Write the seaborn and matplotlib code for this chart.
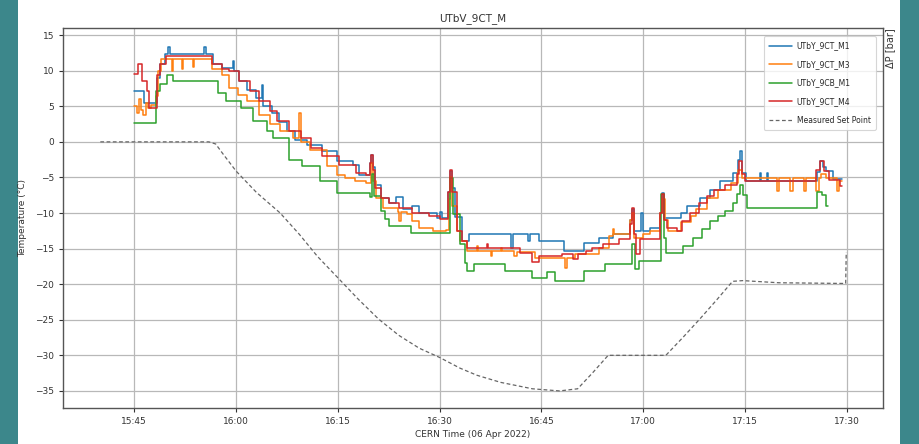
import matplotlib
matplotlib.use("Agg")
import matplotlib.pyplot as plt
import matplotlib.dates as mdates
from matplotlib.patches import Rectangle
import pandas as pd
import seaborn as sns

DAY = "2022-04-06 "

title = "UTbV_9CT_M"
x_label = "CERN Time (06 Apr 2022)"
y_label = "Temperature (°C)"
y2_label = "ΔP [bar]"
labels = ["UTbY_9CT_M1", "UTbY_9CT_M3", "UTbY_9CB_M1", "UTbY_9CT_M4", "Measured Set Point"]
colors = ["#1f77b4", "#ff7f0e", "#2ca02c", "#d62728", "#666666"]
y_ticks = [15, 10, 5, 0, -5, -10, -15, -20, -25, -30, -35]

m1_time = ["15:45:00", "15:46:30", "15:48:20", "15:48:50", "15:49:30", "15:50:00", "15:50:15", "15:55:20",
           "15:55:35", "15:56:40", "15:58:00", "15:59:30", "15:59:45", "16:00:30", "16:01:40", "16:03:00",
           "16:03:50", "16:04:00", "16:05:20", "16:06:20", "16:07:30", "16:08:40", "16:10:30", "16:12:40",
           "16:14:50", "16:17:10", "16:18:10", "16:19:40", "16:19:55", "16:20:10", "16:20:30", "16:21:20",
           "16:22:30", "16:23:30", "16:24:40", "16:26:00", "16:27:00", "16:29:40", "16:30:00", "16:30:20",
           "16:31:10", "16:31:30", "16:31:50", "16:32:20", "16:33:20", "16:34:20", "16:40:30", "16:40:45",
           "16:43:00", "16:43:15", "16:44:40", "16:48:20", "16:51:20", "16:53:30", "16:55:30", "16:58:00",
           "16:58:20", "16:58:40", "16:59:40", "17:00:00", "17:01:00", "17:02:30", "17:02:45", "17:03:00",
           "17:05:30", "17:06:30", "17:08:20", "17:09:50", "17:11:20", "17:13:10", "17:14:00", "17:14:15",
           "17:14:30", "17:15:10", "17:17:10", "17:17:20", "17:18:10", "17:18:20", "17:25:40", "17:26:00",
           "17:26:30", "17:27:00", "17:28:00", "17:29:20"]
m1_temp = [7.2, 5.4, 9.0, 11.0, 12.3, 13.4, 12.3, 13.4,
           12.3, 11.0, 10.4, 11.3, 9.9, 8.6, 7.3, 6.2,
           8.0, 5.0, 4.0, 2.8, 1.5, 0.3, -0.5, -1.3,
           -2.7, -3.2, -4.6, -3.0, -1.8, -3.5, -6.0, -7.9,
           -8.6, -7.8, -9.5, -9.0, -10.0, -10.7, -9.8, -10.7,
           -7.0, -4.1, -6.5, -10.5, -14.0, -13.0, -14.9, -13.0,
           -14.0, -13.0, -14.0, -15.3, -14.2, -13.5, -13.0, -11.0,
           -9.5, -12.5, -10.0, -12.5, -12.1, -10.0, -7.2, -10.7,
           -10.0, -9.0, -7.9, -6.7, -5.5, -4.4, -2.5, -1.3,
           -4.4, -5.5, -4.4, -5.5, -4.4, -5.5, -4.2, -2.7,
           -3.5, -4.1, -5.2, -5.2]

m3_time = ["15:45:00", "15:45:20", "15:45:40", "15:46:00", "15:46:20", "15:46:40", "15:47:00", "15:47:30",
           "15:48:10", "15:48:30", "15:49:00", "15:50:30", "15:50:40", "15:52:00", "15:52:10", "15:53:40",
           "15:53:50", "15:56:30", "15:58:00", "15:59:00", "16:00:20", "16:01:40", "16:03:20", "16:05:00",
           "16:06:30", "16:08:20", "16:09:20", "16:09:30", "16:10:50", "16:13:20", "16:14:50", "16:16:00",
           "16:17:30", "16:19:10", "16:19:50", "16:20:10", "16:20:40", "16:21:40", "16:23:50", "16:24:00",
           "16:24:20", "16:25:10", "16:26:00", "16:27:00", "16:29:00", "16:31:00", "16:31:20", "16:31:35",
           "16:31:50", "16:32:30", "16:33:00", "16:34:00", "16:35:30", "16:35:40", "16:37:30", "16:37:40",
           "16:39:00", "16:39:10", "16:41:00", "16:41:20", "16:44:00", "16:48:30", "16:48:50", "16:50:00",
           "16:53:30", "16:55:00", "16:55:30", "16:55:40", "16:58:00", "16:58:20", "16:58:40", "17:00:00",
           "17:01:00", "17:02:30", "17:02:45", "17:03:10", "17:03:40", "17:05:30", "17:07:00", "17:07:50",
           "17:09:20", "17:11:00", "17:13:00", "17:14:00", "17:14:30", "17:19:40", "17:20:00", "17:21:40",
           "17:22:00", "17:23:40", "17:24:00", "17:25:30", "17:25:50", "17:26:10", "17:27:00", "17:28:30",
           "17:28:50", "17:29:20"]
m3_temp = [5.0, 4.0, 6.0, 4.5, 3.8, 5.5, 4.8, 5.2,
           6.5, 10.0, 11.6, 10.0, 11.6, 10.2, 11.6, 10.5,
           11.6, 10.3, 9.4, 7.5, 6.6, 5.7, 3.8, 2.5,
           1.5, 0.5, 4.0, 0.0, -1.1, -3.4, -4.6, -5.1,
           -5.5, -5.8, -3.0, -5.5, -7.9, -9.3, -9.8, -11.1,
           -9.8, -10.2, -11.1, -12.1, -12.5, -12.4, -8.0, -5.0,
           -9.0, -12.5, -14.0, -15.3, -14.6, -15.3, -16.0, -15.3,
           -14.9, -15.3, -16.0, -15.5, -16.3, -17.7, -16.3, -15.8,
           -14.9, -13.2, -12.3, -13.0, -11.0, -10.0, -13.5, -13.0,
           -12.5, -10.0, -8.0, -11.0, -12.5, -11.3, -10.4, -9.5,
           -7.9, -6.7, -5.8, -4.0, -5.1, -6.9, -5.1, -6.9,
           -5.1, -6.9, -5.1, -6.9, -5.1, -4.5, -5.1, -6.9,
           -5.5, -5.5]

cb_time = ["15:45:00", "15:48:10", "15:48:50", "15:49:50", "15:50:40", "15:57:20", "15:58:30", "16:00:00",
           "16:00:40", "16:02:30", "16:04:30", "16:05:30", "16:07:50", "16:09:40", "16:12:20", "16:14:50",
           "16:19:10", "16:19:40", "16:20:00", "16:20:20", "16:21:20", "16:22:00", "16:22:30", "16:25:50",
           "16:31:00", "16:31:30", "16:32:00", "16:33:00", "16:33:40", "16:34:00", "16:35:00", "16:39:40",
           "16:43:40", "16:45:50", "16:47:00", "16:51:20", "16:54:20", "16:58:00", "16:58:20", "16:58:50",
           "16:59:20", "17:02:20", "17:02:40", "17:03:00", "17:03:20", "17:05:50", "17:07:20", "17:08:40",
           "17:09:50", "17:11:00", "17:12:00", "17:13:10", "17:13:50", "17:14:20", "17:14:40", "17:15:20",
           "17:25:40", "17:26:20", "17:27:00", "17:27:10"]
cb_temp = [2.6, 7.1, 8.2, 9.4, 8.5, 6.8, 5.7, 5.7,
           4.7, 3.0, 1.5, 0.5, -2.5, -3.4, -5.5, -7.2,
           -7.2, -7.7, -4.5, -7.6, -9.7, -10.9, -11.8, -12.8,
           -12.8, -5.1, -10.2, -14.4, -17.0, -18.1, -17.2, -18.1,
           -19.1, -18.3, -19.5, -18.1, -17.2, -17.2, -14.4, -17.9,
           -16.8, -16.8, -7.3, -13.5, -15.6, -14.6, -13.5, -12.3,
           -11.1, -10.4, -9.7, -8.6, -7.3, -6.0, -7.4, -9.3,
           -7.0, -7.5, -9.0, -9.0]

m4_time = ["15:45:00", "15:45:30", "15:46:10", "15:46:50", "15:47:10", "15:48:20", "15:48:50", "15:49:40",
           "15:56:30", "15:58:00", "15:59:00", "16:00:30", "16:02:00", "16:03:20", "16:05:00", "16:06:00",
           "16:07:50", "16:09:30", "16:11:00", "16:12:40", "16:15:10", "16:17:40", "16:19:10", "16:19:40",
           "16:19:55", "16:20:10", "16:20:30", "16:21:20", "16:22:30", "16:24:00", "16:26:00", "16:28:30",
           "16:30:00", "16:31:10", "16:31:30", "16:31:50", "16:32:30", "16:33:20", "16:34:00", "16:37:00",
           "16:37:10", "16:41:50", "16:43:40", "16:44:40", "16:48:00", "16:49:40", "16:50:20", "16:51:30",
           "16:52:30", "16:54:00", "16:56:30", "16:58:00", "16:58:20", "16:58:40", "16:59:00", "16:59:30",
           "17:02:30", "17:02:45", "17:03:00", "17:03:30", "17:05:00", "17:05:40", "17:06:50", "17:08:10",
           "17:09:20", "17:10:30", "17:12:00", "17:13:50", "17:14:10", "17:14:30", "17:15:00", "17:25:30",
           "17:26:00", "17:26:40", "17:27:20", "17:29:00", "17:29:20"]
m4_temp = [9.6, 11.0, 8.5, 7.1, 4.8, 9.4, 10.9, 12.0,
           10.9, 10.3, 9.9, 8.5, 7.1, 5.7, 4.3, 2.9,
           1.5, 0.5, -0.9, -2.0, -3.2, -4.4, -4.6, -3.0,
           -1.8, -4.0, -6.5, -7.9, -8.6, -9.3, -10.0, -10.4,
           -10.9, -7.0, -3.9, -7.0, -12.5, -14.0, -14.9, -14.4,
           -14.9, -15.6, -16.9, -16.0, -15.8, -16.5, -15.8, -15.3,
           -14.9, -14.4, -13.6, -11.5, -9.3, -13.0, -15.8, -13.6,
           -10.0, -7.3, -11.0, -12.1, -12.5, -11.1, -10.0, -8.6,
           -7.6, -6.7, -6.0, -4.5, -2.7, -4.5, -5.5, -4.0,
           -2.7, -4.1, -5.3, -6.2, -6.2]

sp_time = ["15:40:00", "15:48:00", "15:56:00", "15:57:00", "15:58:00", "16:00:00", "16:03:00", "16:06:30",
           "16:09:20", "16:12:00", "16:15:00", "16:18:00", "16:21:00", "16:24:00", "16:27:00", "16:30:00",
           "16:33:00", "16:35:30", "16:39:00", "16:43:40", "16:47:40", "16:50:20", "16:52:30", "16:54:50",
           "17:03:20", "17:05:50", "17:08:20", "17:10:50", "17:13:10", "17:14:40", "17:20:00", "17:29:50",
           "17:29:55"]
sp_value = [0.0, 0.0, 0.0, -0.3, -1.6, -4.1, -7.1, -10.0,
            -13.0, -16.1, -19.1, -22.1, -24.9, -27.2, -29.0, -30.3,
            -31.8, -32.8, -33.8, -34.7, -35.0, -34.7, -32.5, -30.0,
            -30.0, -27.5, -24.9, -22.2, -19.6, -19.5, -19.8, -19.9,
            -15.5]


def frame(times, values):
    return pd.DataFrame({"time": pd.to_datetime([DAY + t for t in times]), "value": values})


sns.set_theme(style="ticks")
plt.rcParams["font.family"] = ["DejaVu Sans"]

fig = plt.figure(figsize=(9.19, 4.44), dpi=100, facecolor="white")
for x0, w in [(0, 18), (900, 19)]:
    fig.add_artist(Rectangle((x0 / 919, 0), w / 919, 1, transform=fig.transFigure,
                             facecolor="#3c878b", edgecolor="none", zorder=-10))
ax = fig.add_axes([63 / 919, 36 / 444, 820 / 919, 380 / 444])

series = [(m1_time, m1_temp), (m3_time, m3_temp), (cb_time, cb_temp), (m4_time, m4_temp)]
for (t, v), lab, col in zip(series, labels[:4], colors[:4]):
    sns.lineplot(data=frame(t, v), x="time", y="value", ax=ax, color=col, label=lab,
                 drawstyle="steps-post", linewidth=1.1, estimator=None, sort=False)
sns.lineplot(data=frame(sp_time, sp_value), x="time", y="value", ax=ax, color=colors[4],
             label=labels[4], linewidth=0.9, linestyle=(0, (3, 2)), estimator=None, sort=False)

ax.set_xlim(pd.Timestamp(DAY + "15:34:30"), pd.Timestamp(DAY + "17:35:20"))
ax.set_ylim(-37.4, 16.0)
ax.set_yticks(y_ticks)
ax.xaxis.set_major_locator(mdates.MinuteLocator(byminute=[0, 15, 30, 45]))
ax.xaxis.set_major_formatter(mdates.DateFormatter("%H:%M"))
ax.grid(True, color="#b8b8b8", linewidth=0.9)
ax.tick_params(labelsize=6.5, colors="#333333", length=3, width=0.8)
for s in ax.spines.values():
    s.set_color("#555555")
    s.set_linewidth(1.0)
ax.set_xlabel(x_label, fontsize=6.5, color="#333333", labelpad=3)
ax.set_ylabel(y_label, fontsize=6.5, color="#333333")
ax.yaxis.set_label_coords(-0.044, 0.5)
ax.set_title(title, fontsize=7.5, color="#333333", pad=5)

ax2 = ax.twinx()
ax2.set_yticks([])
ax2.set_ylabel(y2_label, fontsize=7, color="#333333", ha="right", va="top")
ax2.yaxis.set_label_coords(1.003, 1.0)
for s in ax2.spines.values():
    s.set_visible(False)

leg = ax.legend(loc="upper right", fontsize=5.5, frameon=True, handlelength=3.0,
                handletextpad=0.6, borderpad=0.7, labelspacing=1.25,
                bbox_to_anchor=(0.996, 0.989))
leg.get_frame().set_edgecolor("#cccccc")
leg.get_frame().set_linewidth(0.8)

fig.savefig("out.png", dpi=100, facecolor=fig.get_facecolor())
